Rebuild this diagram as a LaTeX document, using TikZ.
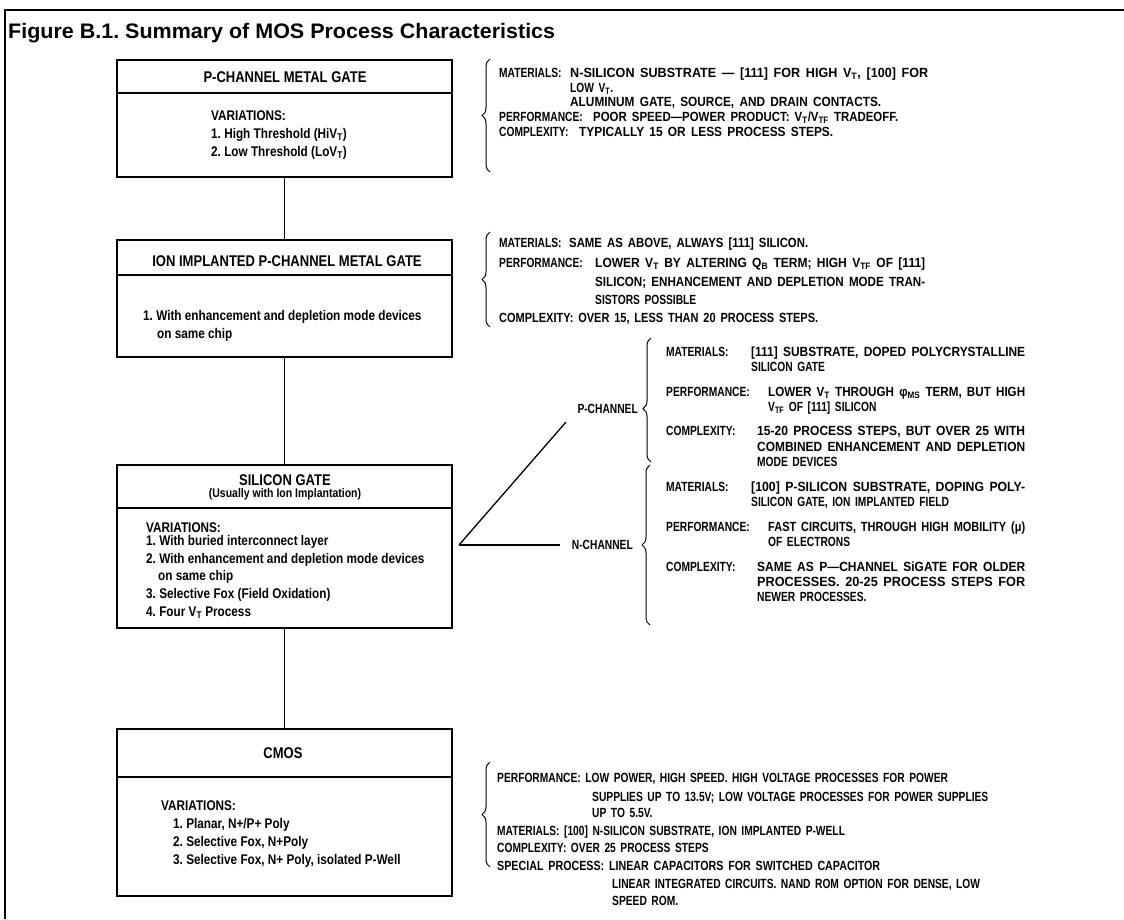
\documentclass[tikz,border=0pt]{standalone}
\usepackage{fontspec}
\usepackage{graphicx}
\setmainfont{Liberation Sans}
\newfontfamily\cnd[FakeStretch=0.84]{Liberation Sans Bold}
\newfontfamily\rfnt[FakeStretch=0.77,WordSpace=1.6]{Liberation Sans Bold}
\usetikzlibrary{decorations.pathreplacing}
\frenchspacing
\newlength\natw
\newcommand\fitw[2]{\settowidth\natw{#2}\pgfmathsetmacro\fitsc{(#1)/\natw}\scalebox{\fitsc}[1]{#2}}
\newcommand\VT{V\textsubscript{T}}
\newcommand\VTF{V\textsubscript{TF}}
\newcommand\rtn[4]{\node[rt] (#1) at (#2,#3) {#4};}
\newcommand\rtf[5]{\node[rt] (#1) at (#2,#3) {\fitw{#4-#2}{#5}};}
\tikzset{
  box/.style={draw, line width=2.6pt, minimum width=335pt, inner sep=0pt, outer sep=0pt},
  sep/.style={line width=1.3pt},
  conn/.style={line width=1.3pt},
  brc/.style={line width=1pt, decorate, decoration={brace, amplitude=8pt}},
  bt/.style={font=\cnd\fontsize{14}{16}\selectfont, inner sep=0pt, anchor=base west},
  btc/.style={font=\cnd\fontsize{15.5}{18}\selectfont, inner sep=0pt, anchor=base},
  rt/.style={font=\rfnt\fontsize{13.3}{15}\selectfont, inner sep=0pt, anchor=base west},
}
\begin{document}
\begin{tikzpicture}[x=1pt,y=-1pt]
\useasboundingbox (0,0) rectangle (1124,919);
% frame
\draw[line width=1.8pt] (5,919) -- (5,10) -- (1124,10);
\node[anchor=base west, inner sep=0pt, font=\bfseries\fontsize{21}{24}\selectfont] (title) at (8,38) {\fitw{547}{Figure B.1. Summary of MOS Process Characteristics}};

% boxes
\node[box, minimum height=117pt] (b1) at (284.5,118.5) {};
\node[box, minimum height=117pt] (b2) at (284.5,298.5) {};
\node[box, minimum height=163pt] (b3) at (284.5,546.5) {};
\node[box, minimum height=167pt] (b4) at (284.5,812.5) {};
\draw[sep] (b1.west |- 0,93) -- (b1.east |- 0,93);
\draw[sep] (b2.west |- 0,275) -- (b2.east |- 0,275);
\draw[sep] (b3.west |- 0,508) -- (b3.east |- 0,508);
\draw[sep] (b4.west |- 0,777) -- (b4.east |- 0,777);
\draw[conn] (b1) -- (b2);
\draw[conn] (b2) -- (b3);
\draw[conn] (b3) -- (b4);

% box 1
\node[btc] (h1) at (285,82.5) {P-CHANNEL METAL GATE};
\node[bt] (v1) at (211,120) {VARIATIONS:};
\node[bt] (v1a) at (211,138) {1. High Threshold (HiV\textsubscript{T})};
\node[bt] (v1b) at (211,156) {2. Low Threshold (LoV\textsubscript{T})};
% box 2
\node[btc] (h2) at (287,266.5) {ION IMPLANTED P-CHANNEL METAL GATE};
\node[bt] (v2a) at (143,320) {1. With enhancement and depletion mode devices};
\node[bt] (v2b) at (157,338) {on same chip};
% box 3
\node[btc] (h3) at (285,485.5) {SILICON GATE};
\node[anchor=base, inner sep=0pt, font=\cnd\fontsize{12.5}{14}\selectfont] (h3s) at (285,497.5) {(Usually with Ion Implantation)};
\node[bt] (v3) at (146,532) {VARIATIONS:};
\node[bt] (v3a) at (146,545) {1. With buried interconnect layer};
\node[bt] (v3b) at (146,563) {2. With enhancement and depletion mode devices};
\node[bt] (v3c) at (158,580) {on same chip};
\node[bt] (v3d) at (146,598) {3. Selective Fox (Field Oxidation)};
\node[bt] (v3e) at (146,616) {4. Four \VT{} Process};
% box 4
\node[btc] (h4) at (283,758.5) {CMOS};
\node[bt] (v4) at (161,810) {VARIATIONS:};
\node[bt] (v4a) at (173,828) {1. Planar, N+/P+ Poly};
\node[bt] (v4b) at (173,846) {2. Selective Fox, N+Poly};
\node[bt] (v4c) at (173,864) {3. Selective Fox, N+ Poly, isolated P-Well};

% braces
\draw[brc] (490,172) -- (490,59);
\draw[brc] (490,327) -- (490,232);
\draw[brc, decoration={aspect=0.43}] (651,462) -- (651,338);
\draw[brc] (650,625) -- (650,465);
\draw[brc] (490,867) -- (490,762);

% block 1
\rtn{r1a}{499}{77}{MATERIALS:}
\rtf{r1av}{570}{77}{928}{N-SILICON SUBSTRATE — [111] FOR HIGH \VT, [100] FOR}
\rtn{r1b}{570}{92}{LOW \VT.}
\rtf{r1c}{570}{106.5}{881}{ALUMINUM GATE, SOURCE, AND DRAIN CONTACTS.}
\rtn{r1d}{499}{121}{PERFORMANCE:}
\rtf{r1dv}{593}{121}{898}{POOR SPEED—POWER PRODUCT: \VT/\VTF{} TRADEOFF.}
\rtn{r1e}{499}{136}{COMPLEXITY:}
\rtf{r1ev}{579}{136}{833}{TYPICALLY 15 OR LESS PROCESS STEPS.}
% block 2
\rtn{r2a}{499}{247}{MATERIALS:}
\rtf{r2av}{569}{247}{808}{SAME AS ABOVE, ALWAYS [111] SILICON.}
\rtn{r2b}{499}{267}{PERFORMANCE:}
\rtf{r2bv}{595}{267}{925}{LOWER \VT{} BY ALTERING Q\textsubscript{B} TERM; HIGH \VTF{} OF [111]}
\rtf{r2c}{595}{286}{925}{SILICON; ENHANCEMENT AND DEPLETION MODE TRAN-}
\rtn{r2d}{595}{304}{SISTORS POSSIBLE}
\rtf{r2e}{499}{322}{818}{COMPLEXITY: OVER 15, LESS THAN 20 PROCESS STEPS.}
% channel labels and fork
\node[rt, anchor=base east] (pcl) at (638,413) {P-CHANNEL};
\node[rt, anchor=base east] (ncl) at (633,549) {N-CHANNEL};
\coordinate (fork) at (459,545);
\coordinate (pend) at (566,422);
\coordinate (nend) at (560,545);
\draw[conn] (fork) -- (pend);
\draw[conn] (fork) -- (nend);
% block 3 (P-channel)
\rtn{r3a}{666}{356}{MATERIALS:}
\rtf{r3av}{751}{356}{1025}{[111] SUBSTRATE, DOPED POLYCRYSTALLINE}
\rtn{r3b}{751}{371}{SILICON GATE}
\rtn{r3c}{666}{396}{PERFORMANCE:}
\rtf{r3cv}{768}{396}{1025}{LOWER \VT{} THROUGH φ\textsubscript{MS} TERM, BUT HIGH}
\rtn{r3d}{768}{411}{\VTF{} OF [111] SILICON}
\rtn{r3e}{666}{435}{COMPLEXITY:}
\rtf{r3ev}{757}{435}{1025}{15-20 PROCESS STEPS, BUT OVER 25 WITH}
\rtf{r3f}{757}{451}{1025}{COMBINED ENHANCEMENT AND DEPLETION}
\rtn{r3g}{757}{466}{MODE DEVICES}
% block 4 (N-channel)
\rtn{r4a}{666}{491}{MATERIALS:}
\rtf{r4av}{751}{491}{1025}{[100] P-SILICON SUBSTRATE, DOPING POLY-}
\rtn{r4b}{751}{506}{SILICON GATE, ION IMPLANTED FIELD}
\rtn{r4c}{666}{531}{PERFORMANCE:}
\rtf{r4cv}{768}{531}{1025}{FAST CIRCUITS, THROUGH HIGH MOBILITY (μ)}
\rtn{r4d}{768}{546}{OF ELECTRONS}
\rtn{r4e}{666}{571}{COMPLEXITY:}
\rtf{r4ev}{757}{571}{1025}{SAME AS P—CHANNEL SiGATE FOR OLDER}
\rtf{r4f}{757}{586}{1025}{PROCESSES. 20-25 PROCESS STEPS FOR}
\rtn{r4g}{757}{601}{NEWER PROCESSES.}
% block 5 (CMOS)
\rtn{r5a}{497}{782}{PERFORMANCE: LOW POWER, HIGH SPEED. HIGH VOLTAGE PROCESSES FOR POWER}
\rtn{r5b}{592}{801}{SUPPLIES UP TO 13.5V; LOW VOLTAGE PROCESSES FOR POWER SUPPLIES}
\rtn{r5c}{592}{817}{UP TO 5.5V.}
\rtn{r5d}{497}{835}{MATERIALS: [100] N-SILICON SUBSTRATE, ION IMPLANTED P-WELL}
\rtn{r5e}{497}{852}{COMPLEXITY: OVER 25 PROCESS STEPS}
\rtf{r5f}{497}{870}{880}{SPECIAL PROCESS: LINEAR CAPACITORS FOR SWITCHED CAPACITOR}
\rtn{r5g}{612}{888}{LINEAR INTEGRATED CIRCUITS. NAND ROM OPTION FOR DENSE, LOW}
\rtn{r5h}{612}{905}{SPEED ROM.}
\end{tikzpicture}
\end{document}
